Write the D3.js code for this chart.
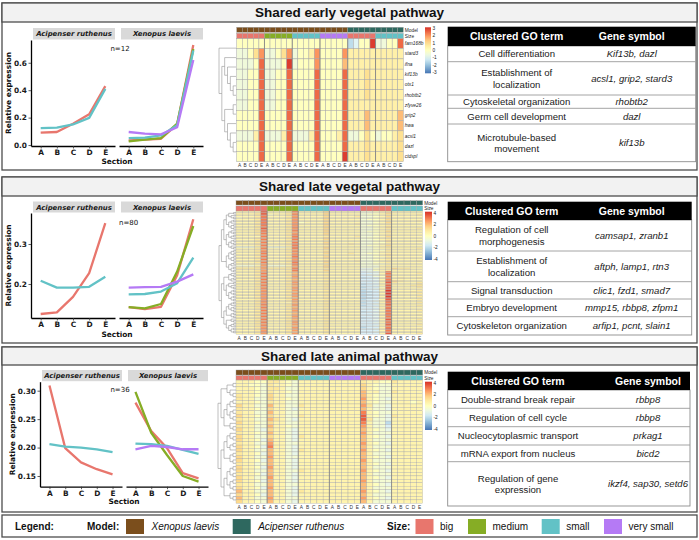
<!DOCTYPE html>
<html><head><meta charset="utf-8">
<script src="https://cdn.jsdelivr.net/npm/d3@7"></script>
<style>body{margin:0;background:#fff}svg{display:block}</style>
</head><body><svg id="chart" width="699" height="540"></svg>
<script>
// ---------------- DATA ----------------
const sections = ["A","B","C","D","E"];
const speciesFacets = ["Acipenser ruthenus","Xenopus laevis"];
const sizeLevels = ["big","medium","small","very small"];
const modelLevels = ["Xenopus laevis","Acipenser ruthenus"];
const pathwayTitles = ["Shared early vegetal pathway","Shared late vegetal pathway","Shared late animal pathway"];
const clusterN = ["n=12","n=80","n=36"];

// line chart values (relative expression, sections A..E)
const aciBig1 = [0.090,0.095,0.155,0.224,0.430];
const aciSmall1 = [0.124,0.127,0.150,0.198,0.410];
const xenBig1 = [0.034,0.040,0.046,0.150,0.730];
const xenMedium1 = [0.027,0.040,0.050,0.156,0.700];
const xenSmall1 = [0.050,0.054,0.070,0.144,0.690];
const xenVsmall1 = [0.095,0.083,0.078,0.130,0.620];

const aciBig2 = [0.125,0.129,0.168,0.227,0.352];
const aciSmall2 = [0.208,0.191,0.191,0.193,0.218];
const xenBig2 = [0.142,0.137,0.143,0.222,0.362];
const xenMedium2 = [0.142,0.139,0.150,0.231,0.345];
const xenSmall2 = [0.174,0.175,0.181,0.202,0.266];
const xenVsmall2 = [0.191,0.192,0.193,0.206,0.224];

const aciBig3 = [0.309,0.199,0.174,0.162,0.153];
const aciSmall3 = [0.206,0.2015,0.200,0.197,0.192];
const xenBig3 = [0.279,0.229,0.199,0.155,0.146];
const xenMedium3 = [0.298,0.226,0.187,0.150,0.140];
const xenSmall3 = [0.207,0.206,0.203,0.196,0.189];
const xenVsmall3 = [0.197,0.203,0.201,0.197,0.197];

const yTicks1 = [0.0,0.2,0.4,0.6];
const yTicks2 = [0.2,0.3];
const yTicks3 = [0.15,0.20,0.25,0.30];

// heatmap column groups
const colGroups = [["Xenopus laevis","big"],["Xenopus laevis","medium"],["Xenopus laevis","small"],["Xenopus laevis","very small"],["Acipenser ruthenus","big"],["Acipenser ruthenus","small"]];

// heatmap z-scores, one letter per cell: i=0, each letter step = 0.5 (h=-0.5, j=0.5, k=1 ...)
const geneLabels1 = ["fam168b","stard3","ifna","kif13b","otx1","rhobtb2","zfyve26","grip2","hwa","acsl1","dazl","ctdspl"];
const heatRows1 = [
"iiiii iiiii iiiii iiiii fgiio hhiin",
"hhikm hhikm hiijm iiiim jjjjj jjjjj",
"hhhin hhhio hiiim iiiil jjjjj jjjjj",
"hhiin hhiin iiiin iiiin jjjkj jjjjj",
"hhiin hhiin iiiin iiiin jjjkj jjjjj",
"hhiin hhiin iiiin iiiin jjjkj jjjjj",
"hhiin hhiin iiiin iiiin jjjjj jjjjj",
"iiiin iiiin iiiin iiiin jjjlj jjjjl",
"iiiin iiiin iiiin iiiin jjjlj jjjjl",
"hhhjn hhhjn hhhjn iiijn hhiki hiijk",
"iiiin iiiin iiiin iiiin jjjkj jjjjk",
"iiiin iiiin iiiin iiiio jjjkj jjjjk"];

const heatRows2 = [
"jjjjp jjjko jjjjl jjjjj hhijk jjjjj",
"jjjkp jjjkn jjjjl jjjjj hhijl jjjjj",
"jjjkp ijjko jjjjl jjjjj hiijk jjjjk",
"jjjko jjjkn jjjjl jjjjk hhijl jjjjj",
"ijjkp jjjko jjjjl jjjjj hhijk jjjjj",
"jjjko jjjkn jjjjl jjjjj hiijl jjjjj",
"jjjkp jjjko jjjjl jjjjj hhijk jjjjk",
"jjjko jjjkn ijjjl jjjjj hhijl jjjjj",
"jjjkp jjjko jjjjl jjjjk hhijk jjjjj",
"jjjko jjjkn jjjjl jjjjj hiijk jjjjj",
"jjjko jjjko jjjjl jjjjj hhijl jjjjj",
"jjjkp jjjkn jjjjl jjjjj hhijk jjjjk",
"jjjko jjjko jjjjl jjjjj hhijk jjjjj",
"jjjko jjjkn jjjjl jjjjj hiijl jjjjj",
"jjjko jjjkn jjjjl jjjjj hhijk jjjjj",
"jjjkn jjjko jjjjl jjjjj hhijk jjjjj",
"jjjjo jjjko jjjjk jjjjk hhijl jjjjj",
"jjjkn jjjko jjjjl jjjjj hiijk jjjjj",
"jjjko jjjko jjjjl jjjjj hhijk jjjjj",
"jjjkn jjjkn jjjjk jjjjj hhijl jjjjk",
"jjjko jjjko jjjjl jjjjj hhiik jjjjj",
"jjjkn jjjko jjjjl jjjkj hhijk jjjjj",
"jjjko jjjko jjjjk jjjjj hiijl jjjjj",
"hhhjn hhhjo jjjjl jjjjj hhijk jjjjj",
"jjjko jjjko jjjjl jjjjj hhijk jjjjk",
"jjjkn jjjkn jjjjk jjjjj hhiik jjjjj",
"jjjko jjjko jjjjl jjjjj hhijk jjjjj",
"jjjko jjjkn jjjjl jjjkj hiijk jjjjj",
"jjjkn jjjko jjjjk jjjjj hhijl jjjjj",
"jjjko jjjko jjjjl jjjjj hhijk jjjjj",
"jjjkn jjjko jjjjl jjjjj hhiik jjjjj",
"jjjko jjjkn jjjjk jjjjj hhijk jjjjj",
"jjjkn jjjko jjjjl jjjjk hhijk jjjjk",
"jjjko jjjko jjjjl jjjjj hhijk jjjjj",
"jjjjn jjjko jjjjk jjjjj hhiij jjjjj",
"hhhjn hhhjn jjjjl jjjjj hhhjk jjjjj",
"jjjkn jjjkn jjjjl jjjjj hhhjk jjjjj",
"kkkkn kkkko jjjjk jjjjj ggijk lkkjj",
"jjjkn jjjko jjjjl jjjjj ggijk jjjjj",
"jjjkn jjjkn jjjjk jjjjj fggjo jjjjj",
"jjjko jjjkm jjjjk jjjjj ffgjo jjjjk",
"jjjkn jjjkn jjjjk jjjjj fggjo jjjjj",
"jjjko jjjkn jjjjk jjjjj ffhio jjjjj",
"jjjkn jjjkn jjjjk jjjjj effjo jkjjk",
"jjjko jjjkm jjjjk jjjjj ffgjo jjjjj",
"jjjkn jjjkn jjjjk jjjjj fffjp lkjjj",
"jjjko jjjkn jjjjk jjjjj ffgjp kjjjk",
"jjjkn jjjkn jjjjk jjjjj effjo jjjjk",
"jjjko jjjkm jjjjk jjjjj ffgjp jjjkk",
"jjjkn jjjkn jjjjk jjjjj effip jjjjk",
"jjjko jjjkn jjjjk jjjjj ffgjp jjjjj",
"jjjkn jjjkn jjjjk jjjjj effjq jjjjk",
"jjjko jjjkm jjjjk jjjjj eefjq jjjkj",
"jjjkn jjjkn jjjjk jjjjj effjq jjjjk",
"jjjko jjjkn jjjjk jjjjj eefjq jjjjj",
"jjjkn jjjkn jjjjk jjjjj effjq jjjjk",
"jjjko jjjkm jjjjk jjjjj eefjq jjjjj",
"jjjkn jjjkn jjjjk jjjjj effjp jjjjk",
"jjjko jjjkn jjjjk jjjjj ffgjp jjjjj",
"jjjkn jjjjm jjjjk jjjjj effjo jjjjk",
"jjjko jjjkn jjjjk jjjjj ffgjp jjjjj",
"jjjkn jjjkn jjjjk jjjjj effjo jjjjk",
"jjjko jjjkm jjjjk jjjjj ffgjo jjjjj",
"jjjkn jjjkn jjjjk jjjjj fffjp jjjjj",
"jjjko jjjkn jjjjk jjjjj ffgjo jjjjk",
"jjjkn jjjkn jjjjk jjjjj effjp jjjjj",
"jjjko jjjkm jjjjk jjjjj ffgjo jjjjj",
"jjjkn jjjkn jjjjk jjjjj fffjp jjjjk",
"jjjko jjjkn jjjjk jjjjj ffgjo jjjjj",
"jjjkn jjjkn jjjjk jjjjj effjo jjjjj",
"jjjko jjjkm jjjjk jjjjj ffgjp jjjjk",
"jjjkn jjjkn jjjjk jjjjj fffjo jjjjj",
"jjjko jjjkn jjjjk jjjjj ffgjo jjjjj",
"jjjkn jjjkn jjjjk jjjjj fffjp jjjjk",
"jjjko jjjkm jjjjk jjjjj ffgjo jjjjj",
"jjjkn jjjkn jjjjk jjjjj effjo jjjjj",
"jjjko jjjkn jjjjk jjjjj ffgjp jjjjk",
"jjjkn jjjkn jjjjk jjjjj fffjo jjjjj",
"jjjko jjjkm jjjjk jjjjj ffgjo jjjjj",
"jjjkn jjjkn jjjjk jjjjj fffjp jjjjk"];

const heatRows3 = [
"jjjii kkjih jjjjj jjjjj kjjii kjjjj",
"jjiih kjjih jjjjj jjjjj ljihh jjjjj",
"jjjih kkjhh jjjjj jjjjj ljihh jjjjj",
"jjjih kjjih jjjjj jjjjj mjjhh kjjjj",
"kjjih ljjhh jjjjj jjjjj mjihh jjjjj",
"kjjhh ljjih jjjjj jjjjj njihg jjjjj",
"jjjih kjjhh jjjjj jjjjj mjihh jjjij",
"ljjhh mjjhh kjjjj jjjjj nkhhg jjjjj",
"kjjih ljjhg jjjjj jjjjj mjhhg jjjjj",
"kjjhh mjjhh jjjjj jjjjj ojihh jjjjj",
"ljjih ljjhh kjjjj jjjjj pjihg kjjjj",
"kjjhh mkjhg jjjjj jjjjj pkhhg jjjjj",
"ljjih ljjhh jjjjj jjjjj ojhhe jjjjj",
"kjjhh mjjih jjjjj jjjjj njhhf jjjjj",
"ljjhg ljjhg jjjjj jjjjj mjihg jjjjj",
"kjjih mjjhg jjjjj jjjjj njhhh jjjjj",
"ljjhh ljjhg kjjjj jjjjj mjihg jjjjj",
"ljjig mjjhg jjjjj jjjjj mjhhh jjjjj",
"kjjhh njjhh jjjjj jjjjj njihg jjjjj",
"ljjig ojjhg jjjjj jjjjj mjhhh jjjjj",
"ljjhh mjjhg kjjjj jjjjj njihg jjjjj",
"kjjig mjjhg jjjjj jjjjj mjhhh jjjjj",
"ljjhh njjhh jjjjj jjjjj mjihg jjjjj",
"ljjig mjjhg jjjjj jjjjj njhhh jjjjj",
"kjjhh mjjhg jjjjj jjjjj mjihg jjjjj",
"ljjig njjhg jjjjj jjjjj mjhhh jjjjj",
"ljjhh mjjhh kjjjj jjjjj njihg jjjjj",
"kjjig mjjhg jjjjj jjjjj mjhhh jjjjj",
"ljjhh njjhg jjjjj jjjjj mjihg jjjjj",
"ljjig mjjhg jjjjj jjjjj njhhh jjjjj",
"kjjhh mjjhh jjjjj jjjjj mjihg jjjjj",
"ljjig njjhg jjjjj jjjjj mjhhh jjjjj",
"mjjhh mjjhg kjjjj jjjjj njihg jjjjj",
"ljjig mjjhg jjjjj jjjjj mjhhh jjjjj",
"mjjhh njjhh jjjjj jjjjj njihg jjjjj",
"ljjih mjjhg jjjjj jjjjj mjhhh jjjjj"];

// row dendrogram shapes (x = leaf)
const sub5 = "((x,x),(x,(x,x)))";
const sub7 = "(((x,x),x),((x,x),(x,x)))";
const sub6 = "((x,(x,x)),((x,x),x))";
const sub4 = "((x,x),(x,x))";
const sub3 = "(x,(x,x))";
const sub8 = "(((x,x),(x,x)),((x,x),(x,x)))";
const tree1 = "(x,((x,(x,(x,(x,x)))),((x,x),(x,(x,(x,x))))))";
const tree2 = `((((${sub5},${sub7}),(${sub6},(${sub4},${sub3}))),(${sub8},${sub7})),((${sub6},(${sub5},${sub8})),((${sub7},${sub4}),(${sub3},${sub7}))))`;
const tree3 = `((${sub5},(${sub7},${sub3})),((${sub6},${sub4}),(${sub8},${sub3})))`;

// tables
const tableHeader = ["Clustered GO term","Gene symbol"];
const goTerms1 = ["Cell differentiation","Establishment of\nlocalization","Cytoskeletal organization","Germ cell development","Microtubule-based\nmovement"];
const genes1 = ["Kif13b, dazl","acsl1, grip2, stard3","rhobtb2","dazl","kif13b"];
const goTerms2 = ["Regulation of cell\nmorphogenesis","Establishment of\nlocalization","Signal transduction","Embryo development","Cytoskeleton organization"];
const genes2 = ["camsap1, zranb1","aftph, lamp1, rtn3","clic1, fzd1, smad7","mmp15, rbbp8, zfpm1","arfip1, pcnt, slain1"];
const goTerms3 = ["Double-strand break repair","Regulation of cell cycle","Nucleocytoplasmic transport","mRNA export from nucleus","Regulation of gene\nexpression"];
const genes3 = ["rbbp8","rbbp8","prkag1","bicd2","ikzf4, sap30, setd6"];

// ---------------- DRAWING ----------------
const svg = d3.select("#chart");
const SANS = "'Liberation Sans', Arial, Helvetica, sans-serif";
const GG = "'DejaVu Sans', sans-serif";
const heatColors = ["#4575B4","#91BFDB","#E0F3F8","#FFFFBF","#FEE090","#FC8D59","#D73027"];
const sizeColor = d3.scaleOrdinal().domain(sizeLevels).range(["#E8766D","#86AD25","#62C2C6","#B57AF5"]);
const modelColor = d3.scaleOrdinal().domain(modelLevels).range(["#7B4E1C","#2E685F"]);
const defs = svg.append("defs");

const panels = [
 {top:3,bottom:170,titleH:19,
  line:{f1:[31,115],f2:[119,203],strip:[28,40],plot:[40,146],yDom:[-0.007,0.766],yTicks:yTicks1,fmt:".1f",sectionY:161,relX:8,nX:120,nY:48,nAnchor:"middle",
   aci:[["big",aciBig1],["small",aciSmall1]],xen:[["big",xenBig1],["medium",xenMedium1],["small",xenSmall1],["very small",xenVsmall1]]},
  heat:{x:[236.7,403.3],y:[38.3,161.7],model:[27.3,32.3],size:[33.3,38.3],colLabY:165.5,M:3.15,legend:[425,431,27.3,73.3],legTicks:[3,2,1,0,-1,-2,-3],dendro:[219,236],tree:tree1,rows:heatRows1,rowLabels:geneLabels1,sw:0.5},
  table:{x:[447.7,695.7],header:[26.7,46],seps:[61.7,95,108.3,124,161.7],goX:516.7,geneX:631.7,go:goTerms1,genes:genes1}},
 {top:177,bottom:343,titleH:19,
  line:{f1:[31,115],f2:[119,203],strip:[201.5,213],plot:[213,318],yDom:[0.115,0.3775],yTicks:yTicks2,fmt:".1f",sectionY:334,relX:8,nX:119,nY:222,nAnchor:"start",
   aci:[["big",aciBig2],["small",aciSmall2]],xen:[["big",xenBig2],["medium",xenMedium2],["small",xenSmall2],["very small",xenVsmall2]]},
  heat:{x:[236,422.7],y:[211,334.3],model:[200.7,205],size:[206,211],colLabY:338.3,M:4.2,legend:[425,432,211.7,260],legTicks:[4,2,0,-2,-4],dendro:[219,236],tree:tree2,rows:heatRows2,rowLabels:null,sw:0.3},
  table:{x:[447.7,691.7],header:[201.7,220],seps:[251,281.7,299,316.7,335],goX:511.7,geneX:631.7,go:goTerms2,genes:genes2}},
 {top:347,bottom:512,titleH:18,
  line:{f1:[40,122],f2:[126,208],strip:[370,381.7],plot:[381.7,486.7],yDom:[0.1312,0.3158],yTicks:yTicks3,fmt:".2f",sectionY:501.7,relX:12,nX:120,nY:389,nAnchor:"middle",
   aci:[["big",aciBig3],["small",aciSmall3]],xen:[["big",xenBig3],["medium",xenMedium3],["small",xenSmall3],["very small",xenVsmall3]]},
  heat:{x:[236,422.7],y:[380,503.3],model:[370,375],size:[375.7,380],colLabY:507.3,M:4.2,legend:[425,432,381.7,430],legTicks:[4,2,0,-2,-4],dendro:[218,236],tree:tree3,rows:heatRows3,rowLabels:null,sw:0.35},
  table:{x:[447.7,690],header:[371.7,390],seps:[408.3,426.7,445,461.7,506],goX:518,geneX:648,go:goTerms3,genes:genes3}}
];

function styleAxis(sel){
  sel.attr("font-family",GG).attr("font-size",7.4).attr("font-weight","bold");
  sel.select(".domain").attr("stroke","#000").attr("stroke-width",1.3);
  sel.selectAll(".tick line").attr("stroke","#333").attr("stroke-width",0.8);
  sel.selectAll(".tick text").attr("fill","#1a1a1a");
}

function drawFrame(p, i){
  const g = svg.append("g");
  g.append("rect").attr("x",2).attr("y",p.top).attr("width",695).attr("height",p.bottom-p.top)
    .attr("fill","#fff").attr("stroke","#4d4d4d").attr("stroke-width",1.3);
  g.append("rect").attr("x",2).attr("y",p.top).attr("width",695).attr("height",p.titleH)
    .attr("fill","#f2f2f2").attr("stroke","#4d4d4d").attr("stroke-width",1.3);
  g.append("text").attr("x",349.5).attr("y",p.top+p.titleH/2+4.7).attr("text-anchor","middle")
    .attr("font-family",SANS).attr("font-weight","bold").attr("font-size",13.5).attr("fill","#111")
    .text(pathwayTitles[i]);
}

function drawLines(L, i){
  const g = svg.append("g");
  const y = d3.scaleLinear().domain(L.yDom).range([L.plot[1], L.plot[0]]);
  const facets = [{name:speciesFacets[0],r:L.f1,series:L.aci},{name:speciesFacets[1],r:L.f2,series:L.xen}];
  facets.forEach((f, fi) => {
    const x = d3.scalePoint().domain(sections).range(f.r).padding(0.6);
    g.append("rect").attr("x",f.r[0]+2).attr("y",L.strip[0]).attr("width",f.r[1]-f.r[0]-2).attr("height",L.strip[1]-L.strip[0]-0.5).attr("fill","#d9d9d9");
    g.append("text").attr("x",(f.r[0]+2+f.r[1])/2).attr("y",(L.strip[0]+L.strip[1])/2+2.3).attr("text-anchor","middle")
      .attr("font-family",GG).attr("font-weight","bold").attr("font-style","italic").attr("font-size",6.9).attr("fill","#1a1a1a").text(f.name);
    const line = d3.line().x((d,k)=>x(sections[k])).y(d=>y(d));
    g.selectAll(null).data(f.series).join("path").attr("d",d=>line(d[1])).attr("fill","none")
      .attr("stroke",d=>sizeColor(d[0])).attr("stroke-width",2.3).attr("stroke-linejoin","round");
    const ax = g.append("g").attr("transform",`translate(0,${L.plot[1]})`)
      .call(d3.axisBottom(x).tickSize(2.5).tickSizeOuter(0).tickPadding(1.5));
    styleAxis(ax);
    if(fi===0){
      const ay = g.append("g").attr("transform",`translate(${f.r[0]},0)`)
        .call(d3.axisLeft(y).tickValues(L.yTicks).tickFormat(d3.format(L.fmt)).tickSize(2.5).tickSizeOuter(0).tickPadding(1.5));
      styleAxis(ay);
    }
  });
  g.append("text").attr("x",(L.f1[0]+L.f2[1])/2).attr("y",L.sectionY+2.7).attr("text-anchor","middle")
    .attr("font-family",GG).attr("font-weight","bold").attr("font-size",7.4).attr("fill","#111").text("Section");
  g.append("text").attr("transform",`translate(${L.relX+2.7},${(L.plot[0]+L.plot[1])/2}) rotate(-90)`).attr("text-anchor","middle")
    .attr("font-family",GG).attr("font-weight","bold").attr("font-size",7.4).attr("fill","#111").text("Relative expression");
  g.append("text").attr("x",L.nX).attr("y",L.nY+2.5).attr("text-anchor",L.nAnchor)
    .attr("font-family",GG).attr("font-size",7).attr("fill","#111").text(clusterN[i]);
}

function parseTree(s){
  s = s.replace(/\s+/g,"");
  let k = 0;
  function node(){
    if(s[k]==="("){
      k++; const ch=[node()];
      while(s[k]===","){k++; ch.push(node());}
      k++; return {children:ch};
    }
    k++; return {};
  }
  return node();
}

function drawHeat(h, i){
  const g = svg.append("g");
  const rows = h.rows.map(r => r.replace(/\s+/g,"").split("").map(c => (c.charCodeAt(0)-105)/2));
  const columns = colGroups.flatMap(([m,s]) => sections.map(sec => ({model:m,size:s,sec})));
  const xs = d3.scaleBand().domain(d3.range(columns.length)).range(h.x);
  const ys = d3.scaleBand().domain(d3.range(rows.length)).range(h.y);
  const color = d3.scaleLinear().domain(d3.range(7).map(k => -h.M + k*h.M/3)).range(heatColors).clamp(true);
  const cells = rows.flatMap((r,ri) => r.map((v,ci) => ({ri,ci,v})));
  g.selectAll(null).data(cells).join("rect")
    .attr("x",d=>xs(d.ci)).attr("y",d=>ys(d.ri)).attr("width",xs.bandwidth()).attr("height",ys.bandwidth())
    .attr("fill",d=>color(d.v)).attr("stroke","#a8a8a8").attr("stroke-width",h.sw);
  g.selectAll(null).data(columns).join("rect")
    .attr("x",(d,ci)=>xs(ci)).attr("y",h.model[0]).attr("width",xs.bandwidth()).attr("height",h.model[1]-h.model[0])
    .attr("fill",d=>modelColor(d.model)).attr("stroke","#a0a0a0").attr("stroke-width",0.4);
  g.selectAll(null).data(columns).join("rect")
    .attr("x",(d,ci)=>xs(ci)).attr("y",h.size[0]).attr("width",xs.bandwidth()).attr("height",h.size[1]-h.size[0])
    .attr("fill",d=>sizeColor(d.size)).attr("stroke","#a0a0a0").attr("stroke-width",0.4);
  g.selectAll(null).data(d3.range(1,colGroups.length)).join("line")
    .attr("x1",k=>xs(k*5)).attr("x2",k=>xs(k*5)).attr("y1",h.y[0]).attr("y2",h.y[1])
    .attr("stroke","#808080").attr("stroke-width",0.8);
  g.selectAll(null).data(columns).join("text")
    .attr("x",(d,ci)=>xs(ci)+xs.bandwidth()/2).attr("y",h.colLabY+1.7).attr("text-anchor","middle")
    .attr("font-family",SANS).attr("font-size",4.8).attr("fill","#333").text(d=>d.sec);
  if(h.rowLabels){
    g.selectAll(null).data(h.rowLabels).join("text")
      .attr("x",h.x[1]+1.5).attr("y",(d,ri)=>ys(ri)+ys.bandwidth()/2+1.7)
      .attr("font-family",SANS).attr("font-style","italic").attr("font-size",4.8).attr("fill","#222").text(d=>d);
  }
  g.append("text").attr("x",h.x[1]+1.5).attr("y",(h.model[0]+h.model[1])/2+1.7).attr("font-family",SANS).attr("font-size",4.8).attr("fill","#222").text("Model");
  g.append("text").attr("x",h.x[1]+1.5).attr("y",(h.size[0]+h.size[1])/2+1.7).attr("font-family",SANS).attr("font-size",4.8).attr("fill","#222").text("Size");
  const root = d3.hierarchy(parseTree(h.tree));
  const rowH = ys.bandwidth();
  d3.cluster().size([(h.y[1]-h.y[0])-rowH, h.dendro[1]-h.dendro[0]]).separation(()=>1)(root);
  const ox = h.dendro[0], oy = h.y[0]+rowH/2;
  g.selectAll(null).data(root.links()).join("path")
    .attr("d",l=>`M${ox+l.source.y},${oy+l.source.x}V${oy+l.target.x}H${ox+l.target.y}`)
    .attr("fill","none").attr("stroke","#8a8a8a").attr("stroke-width",0.55);
  const [lx0,lx1,ly0,ly1] = h.legend;
  const gid = "grad"+i;
  const grad = defs.append("linearGradient").attr("id",gid).attr("x1",0).attr("y1",0).attr("x2",0).attr("y2",1);
  d3.range(0,1.0001,0.1).forEach(t => grad.append("stop").attr("offset",t).attr("stop-color",color(h.M - t*2*h.M)));
  g.append("rect").attr("x",lx0).attr("y",ly0).attr("width",lx1-lx0).attr("height",ly1-ly0).attr("fill",`url(#${gid})`);
  const ly = d3.scaleLinear().domain([h.M,-h.M]).range([ly0,ly1]);
  g.selectAll(null).data(h.legTicks).join("text")
    .attr("x",lx1+1.5).attr("y",d=>ly(d)+1.7).attr("font-family",SANS).attr("font-size",4.8).attr("fill","#222").text(d=>d);
}

function drawTable(t){
  const g = svg.append("g");
  const [x0,x1] = t.x;
  const bottom = t.seps[t.seps.length-1];
  g.append("rect").attr("x",x0).attr("y",t.header[1]).attr("width",x1-x0).attr("height",bottom-t.header[1])
    .attr("fill","#fff").attr("stroke","#8c8c8c").attr("stroke-width",0.9);
  g.append("rect").attr("x",x0).attr("y",t.header[0]).attr("width",x1-x0).attr("height",t.header[1]-t.header[0]).attr("fill","#000");
  [t.goX,t.geneX].forEach((cx,k)=>{
    g.append("text").attr("x",cx).attr("y",(t.header[0]+t.header[1])/2+3.7).attr("text-anchor","middle")
      .attr("font-family",SANS).attr("font-weight","bold").attr("font-size",10.5).attr("fill","#fff").text(tableHeader[k]);
  });
  t.seps.slice(0,-1).forEach(sy => g.append("line").attr("x1",x0).attr("x2",x1).attr("y1",sy).attr("y2",sy).attr("stroke","#9a9a9a").attr("stroke-width",0.9));
  const bounds = [t.header[1], ...t.seps];
  t.go.forEach((term,r)=>{
    const cy = (bounds[r]+bounds[r+1])/2;
    [[term,t.goX,"normal"],[t.genes[r],t.geneX,"italic"]].forEach(([txt,cx,st])=>{
      const lines = txt.split("\n");
      const te = g.append("text").attr("text-anchor","middle").attr("font-family",SANS).attr("font-size",9.6)
        .attr("font-style",st).attr("fill","#1a1a1a");
      lines.forEach((ln,li)=>{
        te.append("tspan").attr("x",cx).attr("y",cy + 3.4 + (li-(lines.length-1)/2)*11.5).text(ln);
      });
    });
  });
}

panels.forEach((p,i)=>{
  drawFrame(p,i);
  drawHeat(p.heat,i);
  drawLines(p.line,i);
  drawTable(p.table);
});

// bottom legend
const lg = svg.append("g").attr("font-family",SANS).attr("font-size",10).attr("fill","#111");
lg.append("rect").attr("x",2).attr("y",515).attr("width",695).attr("height",22).attr("fill","#fff").attr("stroke","#4d4d4d").attr("stroke-width",1.3);
const LY = 530;
lg.append("text").attr("x",15).attr("y",LY).attr("font-weight","bold").text("Legend:");
lg.append("text").attr("x",87).attr("y",LY).attr("font-weight","bold").text("Model:");
const modelPos = [126,232.7];
modelLevels.forEach((m,k)=>{
  lg.append("rect").attr("x",modelPos[k]).attr("y",519).attr("width",18).attr("height",15).attr("fill",modelColor(m));
  lg.append("text").attr("x",modelPos[k]+25.5).attr("y",LY).attr("font-style","italic").text(m);
});
lg.append("text").attr("x",387).attr("y",LY).attr("font-weight","bold").text("Size:");
const sizePos = [415.5,468,541.7,604];
sizeLevels.forEach((s,k)=>{
  lg.append("rect").attr("x",sizePos[k]).attr("y",519).attr("width",18).attr("height",15).attr("fill",sizeColor(s));
  lg.append("text").attr("x",sizePos[k]+24.5).attr("y",LY).text(s);
});
</script></body></html>
